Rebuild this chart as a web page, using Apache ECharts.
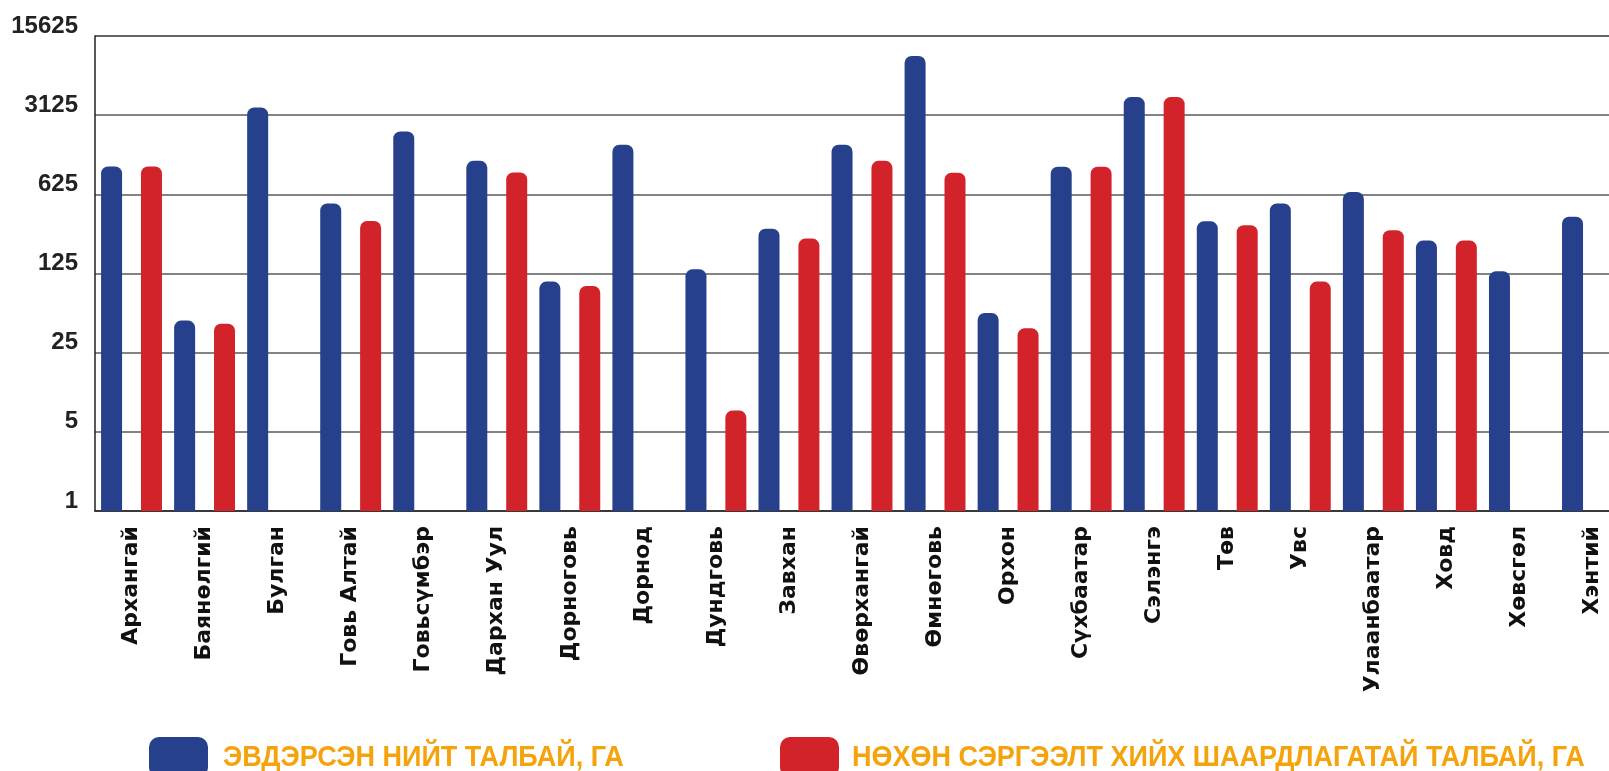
<!DOCTYPE html>
<html>
<head>
<meta charset="utf-8">
<script src="https://cdn.jsdelivr.net/npm/echarts@6/dist/echarts.min.js"></script>
<style>
  html, body { margin: 0; padding: 0; background: #fff; }
  #chart { width: 1609px; height: 771px; }
</style>
</head>
<body>
<div id="chart"></div>
<script>
// аймаг / нийслэл
let aimags = [
  "Архангай", "Баянөлгий", "Булган", "Говь Алтай", "Говьсүмбэр", "Дархан Уул",
  "Дорноговь", "Дорнод", "Дундговь", "Завхан", "Өвөрхангай", "Өмнөговь",
  "Орхон", "Сүхбаатар", "Сэлэнгэ", "Төв", "Увс", "Улаанбаатар", "Ховд",
  "Хөвсгөл", "Хэнтий"
];
// эвдэрсэн нийт талбай, га
let damagedArea = [
  1100, 48, 3660, 520, 2240, 1234, 106, 1710, 136, 311, 1710, 10400,
  56, 1095, 4510, 361, 518, 657, 244, 131, 397
];
// нөхөн сэргээлт хийх шаардлагатай талбай, га
let restoreArea = [
  1100, 45, null, 363, null, 974, 97, null, 7.7, 254, 1234, 970,
  41, 1095, 4510, 333, 106, 301, 244, null, null
];
let yTicks = [1, 5, 25, 125, 625, 3125, 15625];

let seriesNames = [
  "ЭВДЭРСЭН НИЙТ ТАЛБАЙ, ГА",
  "НӨХӨН СЭРГЭЭЛТ ХИЙХ ШААРДЛАГАТАЙ ТАЛБАЙ, ГА"
];
let colors = ["#26408C", "#D2232B"];

// legend text is drawn as graphic text so it can be squeezed like the condensed original
function legendLabel(text, x) {
  return {
    type: "text",
    x: x,
    y: 758,
    scaleX: 0.9,
    style: {
      text: text,
      fill: "#F5A30C",
      font: "bold 30px 'Liberation Sans', Arial, sans-serif",
      textVerticalAlign: "middle"
    }
  };
}

let legendBase = {
  top: 732,
  icon: "roundRect",
  itemWidth: 59,
  itemHeight: 40,
  formatter: function() {
    return "";
  }
};

let option = {
  backgroundColor: "#fff",
  animation: false,
  legend: [
    Object.assign({ data: [seriesNames[0]], left: 144 }, legendBase),
    Object.assign({ data: [seriesNames[1]], left: 775 }, legendBase)
  ],
  graphic: [
    legendLabel(seriesNames[0], 223),
    legendLabel(seriesNames[1], 852)
  ],
  grid: {
    top: 36,
    left: 95,
    width: 1534,
    height: 475,
    outerBoundsMode: "none",
    containLabel: false
  },
  xAxis: {
    type: "category",
    data: aimags,
    boundaryGap: true,
    axisTick: { show: false },
    axisLine: { show: true, lineStyle: { color: "#222", width: 1.5 } },
    axisLabel: {
      interval: 0,
      rotate: 90,
      margin: 15,
      color: "#111",
      fontSize: 22,
      fontWeight: "bold",
      fontFamily: "'DejaVu Sans', sans-serif"
    }
  },
  yAxis: {
    type: "log",
    logBase: 5,
    min: yTicks[0],
    max: yTicks[yTicks.length - 1],
    splitNumber: 6,
    axisTick: { show: false },
    axisLine: { show: true, lineStyle: { color: "#222", width: 1.5 } },
    axisLabel: {
      margin: 17,
      color: "#222",
      fontSize: 24,
      lineHeight: 20,
      fontWeight: "bold",
      fontFamily: "'Liberation Sans', Arial, sans-serif",
      verticalAlign: "bottom",
      formatter: function(v) {
        return String(Math.round(v));
      }
    },
    splitLine: {
      show: true, //分割线
      lineStyle: { color: "#5a5a5a", width: 1.5 }
    }
  },
  series: [
    {
      name: seriesNames[0],
      type: "bar",
      data: damagedArea,
      barWidth: 21,
      barGap: "90%",
      itemStyle: { color: colors[0], borderRadius: [7, 7, 0, 0] }
    },
    {
      name: seriesNames[1],
      type: "bar",
      data: restoreArea,
      barWidth: 21,
      itemStyle: { color: colors[1], borderRadius: [7, 7, 0, 0] }
    }
  ]
};

let dom = echarts.init(document.getElementById("chart"));
dom.setOption(option);
</script>
</body>
</html>
